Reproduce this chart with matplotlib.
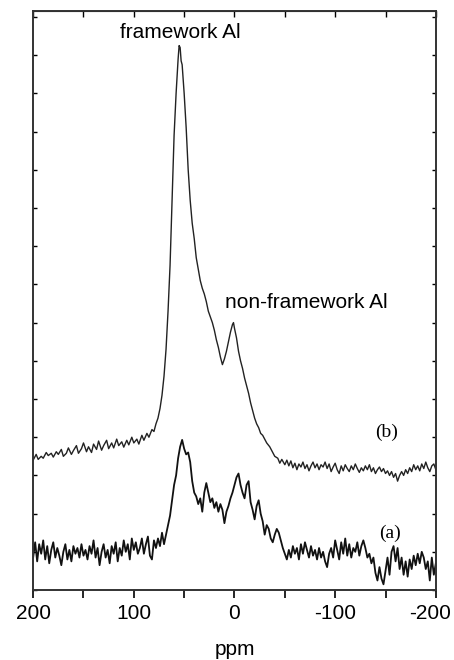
import numpy as np
import matplotlib
matplotlib.use("Agg")
import matplotlib.pyplot as plt
import matplotlib.transforms as mtransforms

plt.rcParams['font.family'] = ['Liberation Sans', 'DejaVu Sans']

# spectrum (b) : ppm / intensity
ppm_b = [200, 197, 195, 192, 190, 187, 185, 182, 180, 177, 175, 172, 170, 167, 165, 162, 160,
         157, 155, 152, 150, 147, 145, 142, 140, 137, 135, 132, 130, 127, 125, 122, 120, 117,
         115, 112, 110, 107, 105, 102, 100, 97, 95, 92, 90, 87, 85, 82, 80, 78, 76, 74, 72, 70,
         68, 66, 64, 62, 60, 58, 56, 55, 54, 53, 52, 50, 48, 46, 44, 42, 40, 38, 36, 34, 32, 30,
         28, 26, 24, 22, 20, 18, 16, 14, 12, 10, 8, 6, 4, 2, 1, 0, -2, -4, -6, -8, -10, -12,
         -14, -16, -18, -20, -22, -24, -26, -28, -30, -32, -35, -38, -40, -43, -45, -47, -50,
         -52, -54, -56, -58, -60, -62, -64, -66, -68, -70, -72, -74, -76, -78, -80, -82, -84,
         -86, -88, -90, -92, -94, -96, -98, -100, -102, -104, -106, -108, -110, -112, -114,
         -116, -118, -120, -122, -124, -126, -128, -130, -132, -134, -136, -138, -140, -142,
         -144, -146, -148, -150, -152, -154, -156, -158, -160, -162, -164, -166, -168, -170,
         -172, -174, -176, -178, -180, -182, -184, -186, -188, -190, -192, -194, -196, -198, -200]
int_b = [3.40, 3.55, 3.42, 3.50, 3.45, 3.60, 3.52, 3.58, 3.48, 3.62, 3.55, 3.68, 3.50, 3.58, 3.72,
         3.55, 3.65, 3.78, 3.58, 3.70, 3.85, 3.62, 3.75, 3.60, 3.82, 3.68, 3.90, 3.66, 3.78, 3.92,
         3.70, 3.85, 3.72, 3.95, 3.78, 3.88, 3.74, 3.92, 3.80, 4.00, 3.85, 3.95, 3.82, 4.05, 3.92,
         4.10, 4.00, 4.20, 4.15, 4.35, 4.50, 4.75, 5.10, 5.60, 6.30, 7.30, 8.50, 10.2, 11.9, 13.0,
         13.9, 14.25, 14.2, 13.85, 13.75, 13.0, 12.1, 11.0, 10.2, 9.6, 9.2, 8.7, 8.4, 8.1, 7.9,
         7.75, 7.55, 7.3, 7.15, 7.0, 6.8, 6.55, 6.35, 6.1, 5.9, 6.05, 6.25, 6.5, 6.75, 6.95, 7.0,
         6.85, 6.6, 6.25, 6.0, 5.8, 5.55, 5.35, 5.15, 4.9, 4.7, 4.5, 4.35, 4.25, 4.1, 4.05, 3.95,
         3.85, 3.75, 3.6, 3.5, 3.45, 3.32, 3.42, 3.28, 3.40, 3.25, 3.38, 3.20, 3.32, 3.15, 3.30,
         3.22, 3.35, 3.18, 3.28, 3.12, 3.25, 3.35, 3.20, 3.30, 3.15, 3.28, 3.22, 3.35, 3.18, 3.30,
         3.10, 3.22, 3.32, 3.15, 3.05, 3.25, 3.12, 3.28, 3.18, 3.10, 3.25, 3.15, 3.30, 3.18, 3.08,
         3.20, 3.12, 3.25, 3.15, 3.28, 3.10, 3.20, 3.05, 3.15, 3.22, 3.10, 3.18, 3.05, 3.12, 3.00,
         3.10, 2.95, 3.05, 2.85, 3.00, 3.10, 3.00, 3.15, 3.05, 3.20, 3.10, 3.28, 3.15, 3.25, 3.12,
         3.30, 3.18, 3.35, 3.20, 3.10, 3.25, 3.30, 3.15]

# spectrum (a)
ppm_a = list(range(200, -201, -2))
int_a = [0.85, 1.25, 0.75, 1.20, 0.95, 1.30, 0.80, 1.15, 0.70, 1.05, 1.25, 0.85, 1.10, 0.90, 0.65,
         1.00, 1.20, 0.80, 1.05, 0.75, 1.15, 0.95, 1.10, 0.85, 1.20, 0.90, 1.05, 0.80, 1.15, 0.95,
         1.30, 0.85, 1.10, 0.65, 1.00, 1.20, 0.85, 1.05, 0.70, 1.15, 0.95, 1.25, 0.75, 1.10, 0.90,
         1.30, 1.00, 1.20, 0.80, 1.35, 1.05, 1.25, 0.95, 1.10, 1.35, 0.95, 1.20, 1.40, 0.90, 0.80,
         1.30, 1.10, 1.35, 1.15, 1.50, 1.20, 1.45, 1.70, 1.95, 2.35, 2.75, 3.00, 3.45, 3.75, 3.93,
         3.70, 3.55, 3.60, 3.35, 2.85, 2.55, 2.45, 2.25, 2.40, 2.05, 2.55, 2.80, 2.55, 2.30, 2.40,
         2.15, 2.30, 2.05, 2.25, 2.10, 1.75, 2.05, 2.20, 2.40, 2.55, 2.75, 2.95, 3.05, 2.75, 2.55,
         2.40, 2.75, 2.85, 2.30, 2.10, 1.85, 2.20, 2.35, 2.00, 1.80, 1.45, 1.70, 1.60, 1.35, 1.25,
         1.45, 1.60, 1.50, 1.30, 1.10, 0.95, 0.80, 1.05, 0.85, 1.15, 0.95, 1.10, 0.80, 1.20, 0.95,
         1.25, 1.05, 0.85, 1.15, 0.90, 1.05, 0.80, 1.10, 0.85, 1.00, 0.75, 0.60, 0.95, 1.10, 0.85,
         1.30, 1.05, 0.80, 1.25, 0.95, 1.35, 0.90, 1.20, 0.85, 1.10, 1.00, 1.25, 0.90, 1.15, 1.30,
         1.10, 0.85, 0.95, 0.70, 0.85, 0.45, 0.25, 0.60, 0.30, 0.15, 0.50, 0.85, 0.40, 1.00, 1.15,
         0.75, 1.10, 0.55, 0.85, 0.40, 0.75, 0.35, 0.80, 0.55, 0.90, 0.65, 0.95, 0.70, 1.00, 0.85,
         0.55, 0.75, 0.25, 0.85, 0.40, 0.70]

fig = plt.figure(figsize=(4.54, 6.6), dpi=100)
ax = fig.add_axes([0.073, 0.106, 0.887, 0.877])

ax.plot(ppm_b, int_b, color='#222222', lw=1.0)
ax.plot(ppm_a, int_a, color='#111111', lw=1.3)

ax.set_xlim(200, -200)
ax.set_ylim(0, 15.15)
ax.set_xticks([200, 100, 0, -100, -200])
ax.set_xticklabels(['200', '100', '0', '-100', '-200'])
ax.set_xticks([150, 50, -50, -150], minor=True)
ax.set_yticks(np.arange(0, 16, 1))
ax.set_yticklabels([])
ax.tick_params(axis='x', which='both', direction='out', bottom=True, top=False,
               labelsize=15, length=6, width=1.2, pad=4)
ax.tick_params(axis='y', which='both', direction='in', left=True, right=True,
               length=3, width=1.0)
ax.set_xlabel('ppm', fontsize=15, labelpad=12)
for s in ax.spines.values():
    s.set_linewidth(1.4)
    s.set_color('#333333')

# last label sits against the right edge in the original
lab = ax.get_xticklabels()[-1]
lab.set_transform(lab.get_transform() + mtransforms.ScaledTranslation(-6 / 100, 0, fig.dpi_scale_trans))

# inward ticks along the top edge
top = ax.secondary_xaxis('top')
top.set_xticks([200, 150, 100, 50, 0, -50, -100, -150, -200])
top.set_xticklabels([])
top.tick_params(direction='in', length=4, width=1.0)

ax.text(54, 14.45, 'framework Al', ha='center', va='baseline', fontsize=15)
ax.text(-71, 7.38, 'non-framework Al', ha='center', va='baseline', fontsize=15)
ax.text(-151, 4.14, '(b)', ha='center', va='center', fontsize=14, family='Liberation Serif')
ax.text(-154, 1.49, '(a)', ha='center', va='center', fontsize=14, family='Liberation Serif')

fig.savefig('out.png', dpi=100)
